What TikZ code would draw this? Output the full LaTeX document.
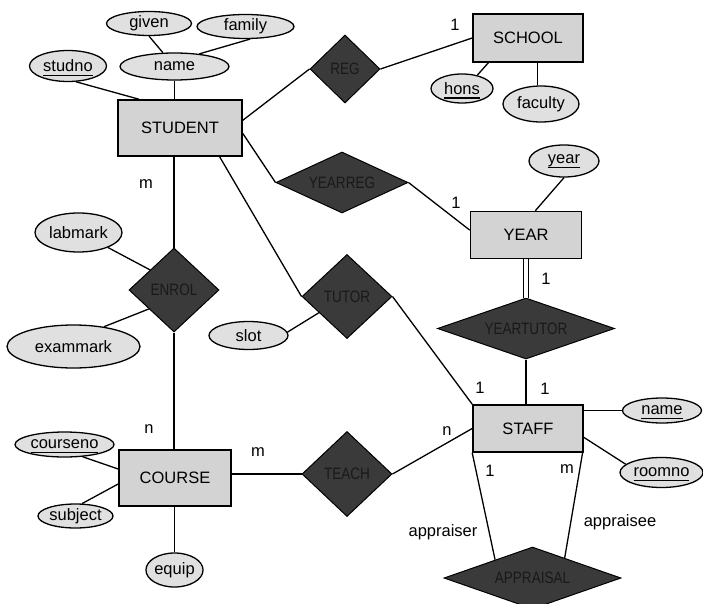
\documentclass[tikz,border=0pt]{standalone}
\usepackage{fontspec}
\setmainfont{Liberation Sans}
\newfontfamily\relfont[FakeStretch=0.82]{Liberation Sans}
\usetikzlibrary{shapes.geometric,calc}
\definecolor{entfill}{RGB}{211,211,211}
\definecolor{attfill}{RGB}{224,224,224}
\definecolor{relfill}{RGB}{58,58,58}
\newcommand{\erfont}{\fontsize{16.5}{19}\selectfont}
\newcommand{\ukey}[1]{\setbox0=\hbox{#1}\rlap{\smash{\rule[-4.5pt]{\wd0}{1.6pt}}}\box0}
\tikzset{
  entity/.style={draw=black,line width=1.6pt,fill=entfill,inner sep=0pt},
  attr/.style={ellipse,draw=black,line width=1.3pt,fill=attfill,inner sep=0pt},
  relship/.style={diamond,draw=black,line width=1pt,fill=relfill,inner sep=0pt,
    text=black!90,font=\erfont\relfont,shape aspect=1},
  link/.style={line width=1.3pt},
  card/.style={inner sep=0pt},
}

\begin{document}
\begin{tikzpicture}[x=1pt,y=-1pt,font=\erfont]
\useasboundingbox (0,0) rectangle (703,604);
% entities
\node[entity,minimum width=124pt,minimum height=56pt] (student) at (180,128) {STUDENT};
\node[entity,minimum width=110pt,minimum height=48pt] (school) at (528,38) {SCHOOL};
\node[entity,minimum width=111pt,minimum height=47pt] (year) at (526,235) {YEAR};
\node[entity,minimum width=110pt,minimum height=47pt] (staff) at (528,428.5) {STAFF};
\node[entity,minimum width=112pt,minimum height=56pt] (course) at (175,478) {COURSE};
% attributes
\node[attr,minimum width=77pt,minimum height=31pt] (studno) at (68,66) {\ukey{studno}};
\node[attr,minimum width=109pt,minimum height=27pt] (name) at (174.5,66.5) {name};
\node[attr,minimum width=85pt,minimum height=24pt] (given) at (149,23.5) {given};
\node[attr,minimum width=97pt,minimum height=24pt] (family) at (245.5,26.5) {family};
\node[attr,minimum width=62pt,minimum height=29pt] (hons) at (462,88.5) {\ukey{hons}};
\node[attr,minimum width=76pt,minimum height=36pt] (faculty) at (541,104) {faculty};
\node[attr,minimum width=70pt,minimum height=32pt] (yearatt) at (564,161) {\ukey{year}};
\node[attr,minimum width=87pt,minimum height=39pt] (labmark) at (78.5,232.5) {labmark};
\node[attr,minimum width=133pt,minimum height=43pt] (exammark) at (73.5,346.5) {exammark};
\node[attr,minimum width=79pt,minimum height=28pt] (slot) at (248.5,335.5) {slot};
\node[attr,minimum width=99pt,minimum height=25pt] (courseno) at (64.5,444.5) {\ukey{courseno}};
\node[attr,minimum width=75pt,minimum height=24pt] (subject) at (75.5,516) {subject};
\node[attr,minimum width=57pt,minimum height=34pt] (equip) at (174.5,570) {equip};
\node[attr,minimum width=79pt,minimum height=25pt] (sname) at (662,410.5) {\ukey{name}};
\node[attr,minimum width=83pt,minimum height=30pt] (roomno) at (661.5,472.5) {\ukey{roomno}};
% relationships
\node[relship,minimum width=70pt,minimum height=68pt] (reg) at (345,69) {REG};
\node[relship,minimum width=132pt,minimum height=61pt,shape aspect=2.16] (yearreg) at (342,182.5) {YEARREG};
\node[relship,minimum width=90pt,minimum height=84pt] (tutor) at (347,296.5) {TUTOR};
\node[relship,minimum width=90pt,minimum height=84pt] (enrol) at (174,290) {ENROL};
\node[relship,minimum width=177pt,minimum height=61pt,shape aspect=2.9] (yeartutor) at (526,328.5) {YEARTUTOR};
\node[relship,minimum width=90pt,minimum height=85pt] (teach) at (347,474) {TEACH};
\node[relship,minimum width=177pt,minimum height=62pt,shape aspect=2.85] (appraisal) at (532.5,578) {APPRAISAL};
% connectors
\draw[link] (studno.297) -- (student.145);
\draw[link] (name.south) -- (name.south |- student.north);
\draw[link] (given.south) -- (name.130);
\draw[link] (family.290) -- (name.27);
\draw[link] (student.7) -- (reg.west);
\draw[link] (reg.east) -- (school.west);
\draw[link] (school.212) -- (hons.41);
\draw[link] (faculty.100 |- school.south) -- (faculty.100);
\draw[link] (student.355) -- (yearreg.west);
\draw[link] (yearreg.east) -- (year.175);
\draw[link] (yearatt.south) -- (year.69);
\draw[link,double,double distance=4pt] (year.south) -- (yeartutor.north);
\draw[link] (yeartutor.south) -- (yeartutor.south |- staff.north);
\draw[link] (student.324) -- (tutor.west);
\draw[link] (tutor.east) -- (staff.north west);
\draw[link] (slot.5) -- (tutor.210);
\draw[link] (enrol.north |- student.south) -- (enrol.north);
\draw[link] (labmark.333) -- (enrol.140);
\draw[link] (exammark.33) -- (enrol.217);
\draw[link] (enrol.south) -- (enrol.south |- course.north);
\draw[link] (courseno.326) -- (course.171);
\draw[link] (subject.62) -- (course.186);
\draw[link] (equip.north |- course.south) -- (equip.north);
\draw[link] (course.east |- teach.west) -- (teach.west);
\draw[link] (teach.east) -- (staff.west);
\draw[link] (staff.east |- sname.west) -- (sname.west);
\draw[link] (staff.351) -- (roomno.167);
\draw[link] (staff.south west) -- (appraisal.154);
\draw[link] (staff.336) -- (appraisal.32);
% cardinalities and roles
\node[card] (c-school) at (455,25) {1};
\node[card] (c-year) at (456,203) {1};
\node[card] (c-yt-year) at (546,279) {1};
\node[card] (c-yt-staff) at (545,389) {1};
\node[card] (c-tutor) at (480,388) {1};
\node[card] (c-enrol-st) at (146,184) {m};
\node[card] (c-enrol-co) at (149,429) {n};
\node[card] (c-teach-co) at (258,452) {m};
\node[card] (c-teach-st) at (447,431) {n};
\node[card] (c-appr-1) at (490,471) {1};
\node[card] (c-appr-m) at (567,469) {m};
\node[card] (appraiser) at (443,532) {appraiser};
\node[card] (appraisee) at (620,522) {appraisee};
\end{tikzpicture}
\end{document}
